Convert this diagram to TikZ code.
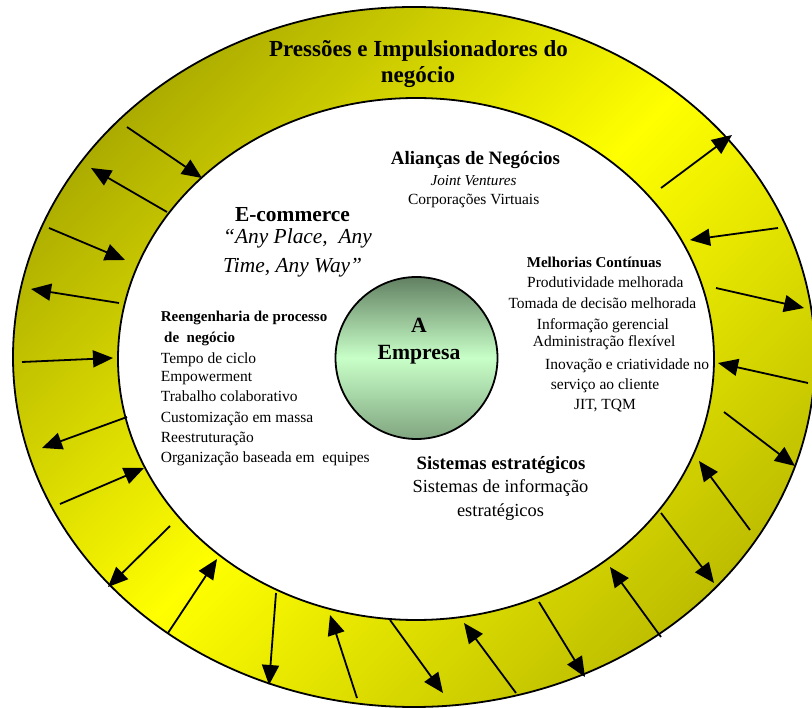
\documentclass[tikz,border=0pt]{standalone}
\usepackage{fontspec}
\setmainfont{Liberation Serif}
\usetikzlibrary{arrows.meta}
\definecolor{ringdark}{RGB}{172,172,0}
\definecolor{ringlight}{RGB}{255,255,0}
\definecolor{ringlow}{RGB}{190,190,0}
\definecolor{coretop}{RGB}{98,128,98}
\definecolor{coremid}{RGB}{200,255,200}
\definecolor{corebot}{RGB}{128,165,128}
\newcommand{\setfs}[1]{\fontsize{#1}{#1}\selectfont}
\tikzset{
  push/.style={line width=1.8pt, -{Triangle[length=20pt,width=17pt]}},
  rim/.style={line width=1.8pt},
  lbl/.style={inner sep=0pt, anchor=base west},
  clbl/.style={inner sep=0pt, anchor=base},
  body/.style={font=\setfs{15.5}},
  bodyb/.style={font=\setfs{15}\bfseries},
}
\begin{document}
\begin{tikzpicture}[x=1pt,y=-1pt]
\useasboundingbox (0,0) rectangle (812,708);
\fill[white] (0,0) rectangle (812,708);

% yellow ring of business pressures
\shade[even odd rule, top color=ringdark, bottom color=ringlow,
       middle color=ringlight, shading angle=45]
  (414,357) ellipse [x radius=401, y radius=350]
  (416,359) ellipse [x radius=298, y radius=261];
\draw[rim] (414,357) ellipse [x radius=401, y radius=350];
\draw[rim] (416,359) ellipse [x radius=298, y radius=261];

% the company at the centre
\node[circle, draw, line width=1.8pt, minimum size=162pt, inner sep=0pt,
      top color=coretop, bottom color=corebot, middle color=coremid] (core) at (416.5,358) {};
\node[clbl, font=\setfs{21.7}\bfseries] (coreA) at (419,332.7) {A};
\node[clbl, font=\setfs{21.7}\bfseries] (coreB) at (419,360) {Empresa};

% pressure arrows across the ring
\foreach \n/\tx/\ty/\hx/\hy in {
   1/127/127/202/178,  2/167/212/91/168,   3/49/228/125/260,
   4/119/303/31/289,   5/22/362/113/358,   6/127/417/42/448,
   7/60/504/144/468,   8/170/526/108/587,  9/168/633/217/559,
  10/276/593/269/685, 11/357/698/330/615, 12/390/620/443/693,
  13/516/693/464/623, 14/539/602/585/677, 15/661/637/610/567,
  16/661/513/714/583, 17/750/530/699/461, 18/724/412/795/466,
  19/808/383/718/363, 20/716/288/804/308, 21/778/228/690/240,
  22/661/188/732/135} {
  \coordinate (t\n) at (\tx,\ty);
  \coordinate (h\n) at (\hx,\hy);
  \draw[push] (t\n) -- (h\n);
}

% ring title
\node[clbl, font=\setfs{23}\bfseries] (title1) at (418.5,56.7) {Pressões e Impulsionadores do};
\node[clbl, font=\setfs{23}\bfseries] (title2) at (418,82.7) {negócio};

% alliances
\node[clbl, font=\setfs{18.9}\bfseries] (ali1) at (475.5,165) {Alianças de Negócios};
\node[clbl, font=\setfs{15.2}\itshape] (ali2) at (473.5,185.5) {Joint Ventures};
\node[clbl, body] (ali3) at (473.7,205) {Corporações Virtuais};

% e-commerce
\node[clbl, font=\setfs{21.4}\bfseries] (ec1) at (292.5,221.7) {E-commerce};
\node[lbl, font=\setfs{21.4}\itshape] (ec2) at (223,244) {“Any Place,~ Any};
\node[lbl, font=\setfs{21.4}\itshape] (ec3) at (223,273) {Time, Any Way”};

% continuous improvement
\node[lbl, bodyb] (mc1) at (526.7,267.3) {Melhorias Contínuas};
\node[lbl, body] (mc2) at (527,287.7) {Produtividade melhorada};
\node[lbl, body] (mc3) at (508.3,309) {Tomada de decisão melhorada};
\node[lbl, body] (mc4) at (536.7,329.3) {Informação gerencial};
\node[lbl, body] (mc5) at (532.7,346.7) {Administração flexível};
\node[lbl, body] (mc6) at (545,370) {Inovação e criatividade no};
\node[lbl, body] (mc7) at (550.7,389.3) {serviço ao cliente};
\node[lbl, body] (mc8) at (574,409.3) {JIT, TQM};

% business process reengineering
\node[lbl, bodyb] (bp1) at (160.7,321.7) {Reengenharia de processo};
\node[lbl, bodyb] (bp2) at (164,343) {de~ negócio};
\node[lbl, body] (bp3) at (160.7,364) {Tempo de ciclo};
\node[lbl, body] (bp4) at (160.7,382) {Empowerment};
\node[lbl, body] (bp5) at (160.7,401.7) {Trabalho colaborativo};
\node[lbl, body] (bp6) at (160.7,423) {Customização em massa};
\node[lbl, body] (bp7) at (160.7,443) {Reestruturação};
\node[lbl, body] (bp8) at (160.7,463) {Organização baseada em~ equipes};

% strategic systems
\node[clbl, font=\setfs{18.8}\bfseries] (ss1) at (501,470) {Sistemas estratégicos};
\node[clbl, font=\setfs{18.4}] (ss2) at (500.5,493) {Sistemas de informação};
\node[clbl, font=\setfs{18.4}] (ss3) at (500.5,517) {estratégicos};
\end{tikzpicture}
\end{document}
